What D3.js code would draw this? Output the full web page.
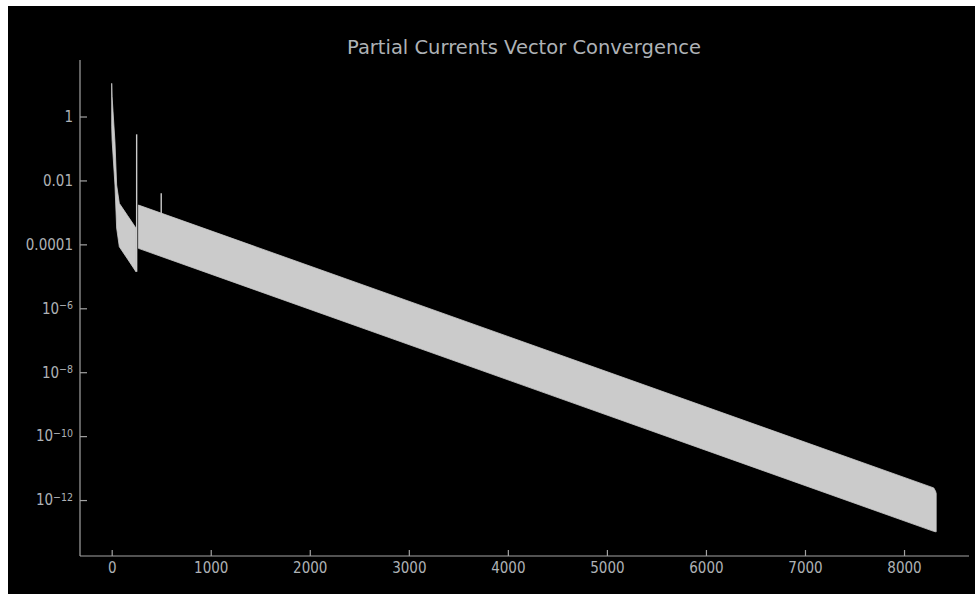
<!DOCTYPE html>
<html>
<head>
<meta charset="utf-8">
<script src="https://cdn.jsdelivr.net/npm/d3@7"></script>
<style>
  html, body { margin: 0; padding: 0; background: #ffffff; }
  svg { display: block; }
</style>
</head>
<body>
<svg id="chart" width="975" height="594"></svg>
<script>
// Residual history of the partial currents vector (iteration -> residual)
const titleText = "Partial Currents Vector Convergence";

// first solve: steep drop, then slow decay of the oscillation band
const iterA  = [0, 4, 33, 50, 77, 160, 245];
const upperA = [10.9, 4.17, 0.161, 0.0072, 1.92e-3, 7.98e-4, 3.24e-4];
const lowerA = [0.50, 0.184, 0.0072, 3.24e-4, 8.4e-5, 3.48e-5, 1.39e-5];

// second solve: long, steady (log-linear) convergence band
const iterB  = [270, 8300, 8318, 8325];
const upperB = [1.70e-3, 2.4e-12, 1.9e-12, 1.6e-12];
const lowerB = [7.5e-5, 1.05e-13, 1.02e-13, 1.02e-13];

// isolated restart spikes
const spikeIter = [252, 500];
const spikeBase = [1.39e-5, 9.0e-4];
const spikeTop  = [0.277, 3.95e-3];

// axis ticks
const xTicks = [0, 1000, 2000, 3000, 4000, 5000, 6000, 7000, 8000];
const yTicks = [1, 1e-2, 1e-4, 1e-6, 1e-8, 1e-10, 1e-12];

const svg = d3.select("#chart");
const W = 975, H = 594;
const frame = { left: 8, top: 6 };
const plot = { left: 80, right: 969, top: 60, bottom: 556 };

const axisColor = "#a3a3a3";
const textColor = "#aeb2b6";
const bandColor = "#cbcbcb";
const labelFont = "'DejaVu Sans Condensed', 'DejaVu Sans', sans-serif";

// black panel
svg.append("rect")
  .attr("x", frame.left).attr("y", frame.top)
  .attr("width", W - frame.left).attr("height", H - frame.top)
  .attr("fill", "#000000");

const x = d3.scaleLinear().domain([-320, 8656]).range([plot.left, plot.right]);
const y = d3.scaleLog().domain([Math.pow(10, -13.75), Math.pow(10, 1.768)]).range([plot.bottom, plot.top]);

// bands
const area = d3.area()
  .x(d => x(d.i))
  .y0(d => y(d.lo))
  .y1(d => y(d.hi));

const segA = iterA.map((i, k) => ({ i, hi: upperA[k], lo: lowerA[k] }));
const segB = iterB.map((i, k) => ({ i, hi: upperB[k], lo: lowerB[k] }));

svg.append("path").datum(segA).attr("d", area).attr("fill", bandColor)
  .attr("stroke", bandColor).attr("stroke-width", 0.8);
svg.append("path").datum(segB).attr("d", area).attr("fill", bandColor)
  .attr("stroke", bandColor).attr("stroke-width", 0.8);

// spikes
svg.append("g").selectAll("line")
  .data(spikeIter.map((i, k) => ({ i, b: spikeBase[k], t: spikeTop[k] })))
  .join("line")
  .attr("x1", d => x(d.i)).attr("x2", d => x(d.i))
  .attr("y1", d => y(d.b)).attr("y2", d => y(d.t))
  .attr("stroke", bandColor).attr("stroke-width", 1.4);

// axes
const xAxis = d3.axisBottom(x).tickValues(xTicks).tickSize(-6).tickPadding(6)
  .tickFormat(d3.format("d"));
const gx = svg.append("g").attr("transform", `translate(0,${plot.bottom})`).call(xAxis);

const yAxis = d3.axisLeft(y).tickValues(yTicks).tickSize(-7).tickPadding(7)
  .tickFormat(() => "");
const gy = svg.append("g").attr("transform", `translate(${plot.left},0)`).call(yAxis);

[gx, gy].forEach(g => {
  g.select(".domain").attr("stroke", axisColor).attr("stroke-width", 1.2);
  g.selectAll(".tick line").attr("stroke", axisColor).attr("stroke-width", 1.2);
  g.selectAll("text").attr("fill", textColor).attr("font-family", labelFont).attr("font-size", 15);
});
// keep axis lines spanning the full plot
gx.select(".domain").attr("d", `M${plot.left},0H${plot.right}`);
gy.select(".domain").attr("d", `M0,${plot.bottom}V${plot.top}`);

// y labels: decimals down to 1e-4, powers of ten below
gy.selectAll(".tick text").each(function(d) {
  const t = d3.select(this);
  t.text(null);
  const e = Math.round(Math.log10(d));
  if (e >= -4) {
    t.text(e === 0 ? "1" : d.toFixed(-e));
  } else {
    t.append("tspan").text("10");
    t.append("tspan").attr("dy", "-0.45em").attr("font-size", 10.5)
      .text(String(e).replace("-", "\u2212"));
  }
});

// title
svg.append("text")
  .attr("x", 524).attr("y", 54)
  .attr("text-anchor", "middle")
  .attr("fill", textColor)
  .attr("font-family", "'DejaVu Sans', sans-serif")
  .attr("font-size", 19.5)
  .text(titleText);
</script>
</body>
</html>
